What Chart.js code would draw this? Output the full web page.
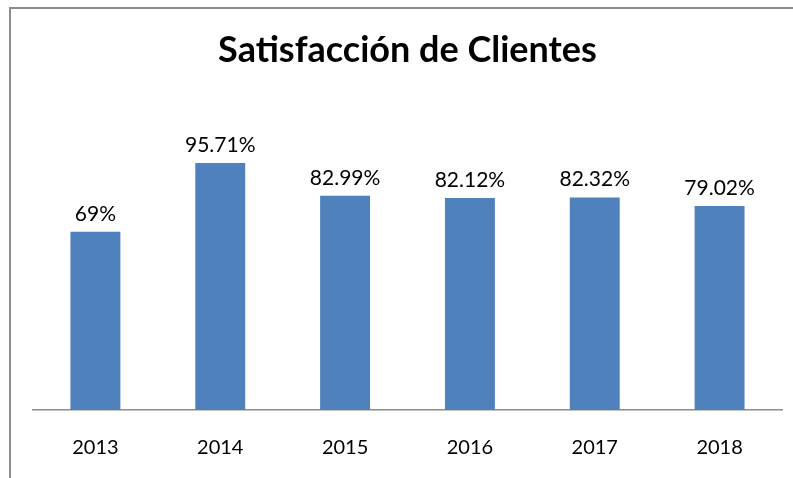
<!DOCTYPE html>
<html>
<head>
<meta charset="utf-8">
<script src="https://cdn.jsdelivr.net/npm/chart.js@4"></script>
<style>
  html, body { margin: 0; padding: 0; background: #fff; }
  #wrap { position: relative; width: 793px; height: 478px; }
  #frame { position: absolute; left: 9px; top: 7px; right: -5px; bottom: -5px;
           border-left: 2px solid #8c8c8c; border-top: 2px solid #8c8c8c; pointer-events: none; }
  canvas { position: absolute; left: 0; top: 0; }
</style>
</head>
<body>
<div id="wrap">
  <canvas id="c" width="793" height="478"></canvas>
  <div id="frame"></div>
</div>
<script>
const chartTitle = "Satisfacción de Clientes";
const categories = ["2013", "2014", "2015", "2016", "2017", "2018"];
const satisfaction = [69, 95.71, 82.99, 82.12, 82.32, 79.02];

const FONT = "Lato, 'Open Sans', sans-serif";

function fmtPct(v) {
  return (Number.isInteger(v) ? String(v) : v.toFixed(2)) + "%";
}

const valueLabels = {
  id: "valueLabels",
  afterDatasetsDraw(chart) {
    const ctx = chart.ctx;
    const meta = chart.getDatasetMeta(0);
    ctx.save();
    ctx.font = "21px " + FONT;
    ctx.fillStyle = "#000";
    ctx.textAlign = "center";
    ctx.textBaseline = "alphabetic";
    meta.data.forEach((bar, i) => {
      ctx.fillText(fmtPct(chart.data.datasets[0].data[i]), bar.x, bar.y - 11);
    });
    ctx.restore();
  }
};

new Chart(document.getElementById("c"), {
  type: "bar",
  data: {
    labels: categories,
    datasets: [{
      data: satisfaction,
      backgroundColor: "#4F81BD",
      borderWidth: 0,
      categoryPercentage: 1,
      barPercentage: 0.4
    }]
  },
  options: {
    responsive: false,
    animation: false,
    layout: { padding: { left: 33, right: 11, top: 29, bottom: 0 } },
    plugins: {
      legend: { display: false },
      tooltip: { enabled: false },
      title: {
        display: true,
        text: chartTitle,
        color: "#000",
        font: { family: FONT, size: 36, weight: "bold", lineHeight: 1.2 },
        padding: { top: 0, bottom: 28 }
      }
    },
    scales: {
      x: {
        grid: { display: false, drawTicks: false },
        border: { display: true, color: "#8c8c8c", width: 1.5 },
        ticks: { color: "#000", font: { family: FONT, size: 20 }, padding: 26 },
        afterFit(scale) { scale.height = 68; }
      },
      y: {
        display: false,
        min: 0,
        max: 120
      }
    }
  },
  plugins: [valueLabels]
});
</script>
</body>
</html>
